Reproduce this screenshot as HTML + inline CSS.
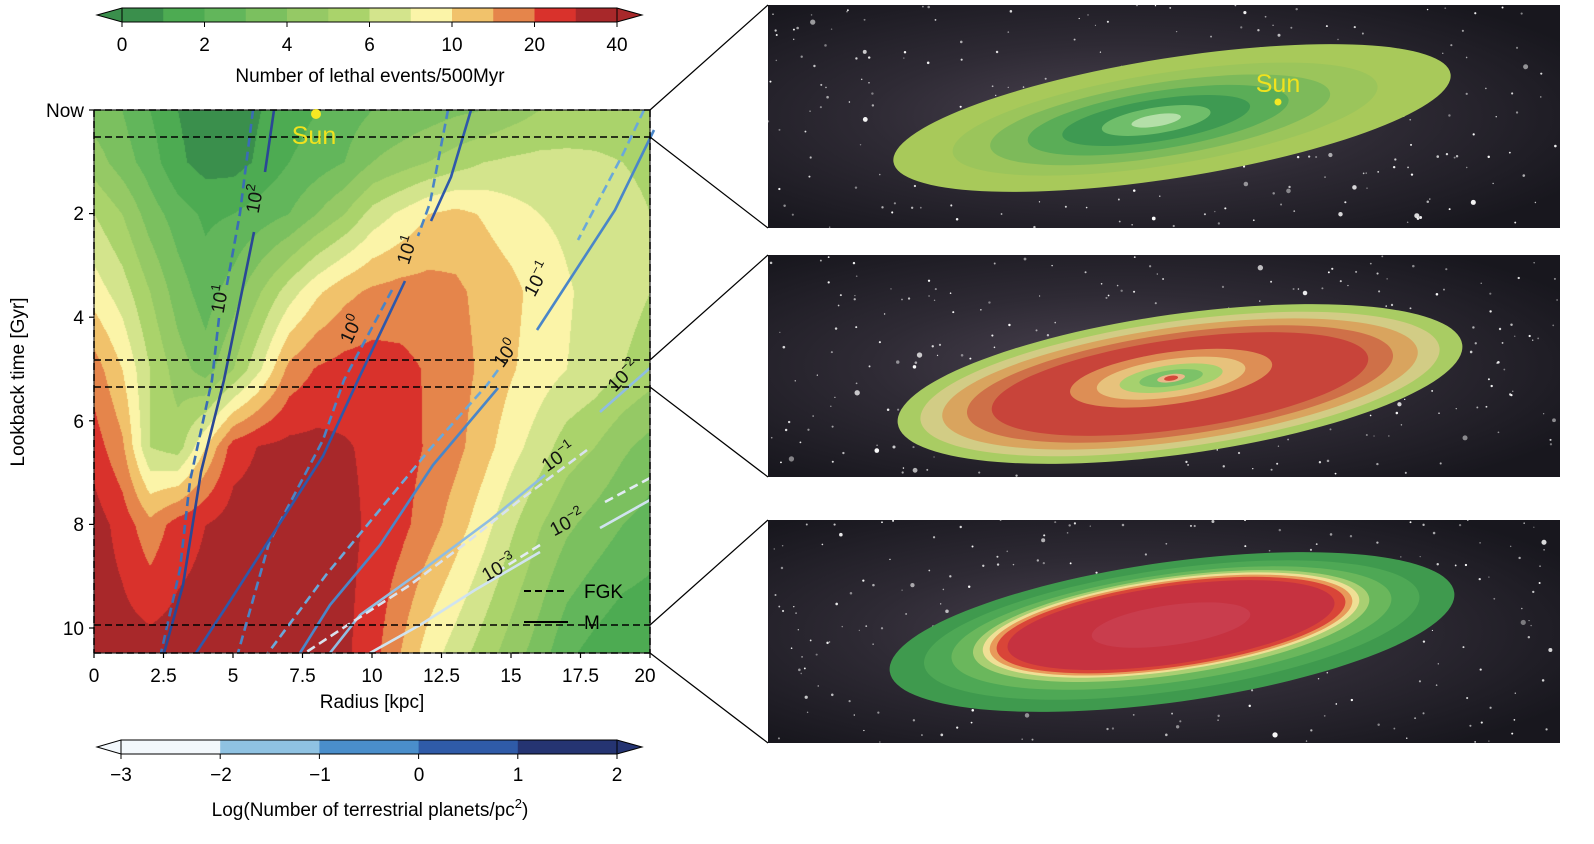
<!DOCTYPE html>
<html><head><meta charset="utf-8"><style>
html,body{margin:0;padding:0;background:#fff;}
#wrap{position:relative;width:1594px;height:844px;overflow:hidden;font-family:"Liberation Sans",sans-serif;}
#cv{position:absolute;left:94px;top:110px;}
#svg{position:absolute;left:0;top:0;}
</style></head><body><div id="wrap">
<canvas id="cv" width="556" height="543"></canvas>
<svg id="svg" width="1594" height="844" xmlns="http://www.w3.org/2000/svg" font-family="Liberation Sans, sans-serif">
<defs>
<radialGradient id="bg" cx="45%" cy="50%" r="65%"><stop offset="0" stop-color="#4c4452"/><stop offset="0.5" stop-color="#2e2a34"/><stop offset="1" stop-color="#18171e"/></radialGradient>
<clipPath id="c1"><rect x="768" y="5" width="792" height="223"/></clipPath>
<clipPath id="c2"><rect x="768" y="255" width="792" height="222"/></clipPath>
<clipPath id="c3"><rect x="768" y="520" width="792" height="223"/></clipPath>
</defs>
<g id="cb1"></g>
<text x="122" y="51" font-size="19" text-anchor="middle">0</text>
<text x="204.5" y="51" font-size="19" text-anchor="middle">2</text>
<text x="287" y="51" font-size="19" text-anchor="middle">4</text>
<text x="369.5" y="51" font-size="19" text-anchor="middle">6</text>
<text x="452" y="51" font-size="19" text-anchor="middle">10</text>
<text x="534.5" y="51" font-size="19" text-anchor="middle">20</text>
<text x="617" y="51" font-size="19" text-anchor="middle">40</text>
<text x="370" y="82" font-size="19" text-anchor="middle">Number of lethal events/500Myr</text>
<g id="lines" fill="none" stroke-width="2.6"></g>
<rect x="94" y="110" width="556" height="543" fill="none" stroke="#222" stroke-width="1.2"/>
<g stroke="#000" stroke-width="1.5" stroke-dasharray="7,4">
<line x1="94" y1="110" x2="650" y2="110"/><line x1="94" y1="137" x2="650" y2="137"/>
<line x1="94" y1="360" x2="650" y2="360"/><line x1="94" y1="387" x2="650" y2="387"/>
<line x1="94" y1="625" x2="650" y2="625"/><line x1="94" y1="653" x2="650" y2="653"/>
<line x1="94" y1="110" x2="94" y2="653"/><line x1="650" y1="110" x2="650" y2="653"/>
</g>
<g id="ticks" stroke="#000" stroke-width="1.2"></g>
<g font-size="19" text-anchor="end">
<text x="84" y="117">Now</text><text x="84" y="220">2</text><text x="84" y="324">4</text><text x="84" y="428">6</text><text x="84" y="531">8</text><text x="84" y="635">10</text>
</g>
<g font-size="19" text-anchor="middle">
<text x="94" y="682">0</text><text x="163.5" y="682">2.5</text><text x="233" y="682">5</text><text x="302.5" y="682">7.5</text><text x="372" y="682">10</text><text x="441.5" y="682">12.5</text><text x="511" y="682">15</text><text x="580.5" y="682">17.5</text><text x="645" y="682">20</text>
<text x="372" y="708">Radius [kpc]</text>
</g>
<text transform="translate(24,382) rotate(-90)" font-size="19" text-anchor="middle">Lookback time [Gyr]</text>
<circle cx="316" cy="114" r="5" fill="#f5e823"/>
<text x="314" y="144" font-size="25" fill="#f0e21e" text-anchor="middle">Sun</text>
<line x1="524" y1="591" x2="568" y2="591" stroke="#000" stroke-width="2" stroke-dasharray="7,4"/>
<text x="584" y="598" font-size="19">FGK</text>
<line x1="524" y1="622" x2="568" y2="622" stroke="#000" stroke-width="2"/>
<text x="584" y="629" font-size="19">M</text>
<g id="cb2"></g>
<g font-size="19" text-anchor="middle">
<text x="121" y="781">−3</text><text x="221" y="781">−2</text><text x="320" y="781">−1</text><text x="419" y="781">0</text><text x="518" y="781">1</text><text x="617" y="781">2</text>
<text x="370" y="816">Log(Number of terrestrial planets/pc<tspan font-size="13" dy="-8">2</tspan><tspan dy="8">)</tspan></text>
</g>
<g stroke="#000" stroke-width="1.2">
<line x1="650" y1="110" x2="768" y2="5"/><line x1="650" y1="137" x2="768" y2="228"/>
<line x1="650" y1="360" x2="768" y2="255"/><line x1="650" y1="387" x2="768" y2="477"/>
<line x1="650" y1="625" x2="768" y2="520"/><line x1="650" y1="653" x2="768" y2="743"/>
</g>
<g clip-path="url(#c1)"><rect x="768" y="5" width="792" height="223" fill="url(#bg)"/><g class="stars" data-y="5"></g>
<g transform="rotate(-9 1172 118)">
<ellipse cx="1172" cy="118" rx="282" ry="60" fill="#a8c95a"/>
<ellipse cx="1165" cy="118" rx="215" ry="46" fill="#9bc55b"/>
<ellipse cx="1160" cy="118" rx="172" ry="37" fill="#7dba5a"/>
<ellipse cx="1158" cy="118" rx="132" ry="29" fill="#5aad57"/>
<ellipse cx="1156" cy="118" rx="95" ry="21" fill="#3e9a52"/>
<ellipse cx="1156" cy="118" rx="55" ry="13" fill="#6fbe6a"/>
<ellipse cx="1156" cy="118" rx="25" ry="6" fill="#b4dfa8"/>
</g>
<circle cx="1278" cy="102" r="3.5" fill="#f5e823"/>
<text x="1278" y="92" font-size="25" fill="#f0e21e" text-anchor="middle">Sun</text>
</g>
<g clip-path="url(#c2)"><rect x="768" y="255" width="792" height="222" fill="url(#bg)"/><g class="stars" data-y="255"></g>
<g transform="rotate(-8 1180 384)">
<ellipse cx="1180" cy="384" rx="285" ry="70" fill="#a9cc63"/>
<ellipse cx="1180" cy="384" rx="262" ry="63" fill="#d2cc85"/>
<ellipse cx="1180" cy="384" rx="240" ry="57" fill="#d9a45e"/>
<ellipse cx="1180" cy="384" rx="215" ry="51" fill="#cf7048"/>
<ellipse cx="1180" cy="384" rx="190" ry="45" fill="#c8443a"/>
<ellipse cx="1172" cy="377" rx="102" ry="26" fill="#dd8e55"/>
<ellipse cx="1172" cy="377" rx="75" ry="19" fill="#e7c27c"/>
<ellipse cx="1172" cy="377" rx="52" ry="13" fill="#a6d16e"/>
<ellipse cx="1172" cy="377" rx="32" ry="8" fill="#7cc268"/>
<ellipse cx="1172" cy="377" rx="14" ry="4" fill="#e9b88a"/>
<ellipse cx="1172" cy="377" rx="7" ry="2.5" fill="#d4493a"/>
</g></g>
<g clip-path="url(#c3)"><rect x="768" y="520" width="792" height="223" fill="url(#bg)"/><g class="stars" data-y="520"></g>
<g transform="rotate(-8 1172 632)">
<ellipse cx="1172" cy="632" rx="285" ry="70" fill="#3f9a4e"/>
<ellipse cx="1172" cy="630" rx="250" ry="61" fill="#4ea855"/>
<ellipse cx="1172" cy="628" rx="222" ry="54" fill="#6ab75c"/>
<ellipse cx="1172" cy="626" rx="200" ry="49" fill="#a9cf72"/>
<ellipse cx="1172" cy="625" rx="190" ry="46" fill="#efdf95"/>
<ellipse cx="1172" cy="625" rx="183" ry="44" fill="#e89a5a"/>
<ellipse cx="1172" cy="625" rx="176" ry="42" fill="#d94538"/>
<ellipse cx="1172" cy="625" rx="165" ry="39" fill="#c63240"/>
<ellipse cx="1172" cy="625" rx="80" ry="20" fill="#cc4557" opacity="0.6"/>
</g></g>
</svg>
<script>
(function(){
var cols=['#3a8f4c','#4dab52','#62b65b','#7bc05f','#95c965','#aad36b','#d3e48c','#fbf4a8','#f1c26b','#e5854b','#d9322c','#a8282a'];
var T=[0,1,2,3.5,5,6.5,8,10.5];
var G=[
[3.5,3,2,1,0.5,0.5,1,1.5,2,2.5,3,3.2,3.5,3.8,4,4.5,5,5.2,5.3,5.3,5.3],
[4.5,3.5,2.5,1.2,0.6,0.6,1.2,2,2.5,3,4,4.5,5,5.5,6,6.2,6.3,6.3,6.2,6,5.8],
[6,5,3.5,2.5,1.8,2,2.5,3,4,5,6.4,7.2,8,8.3,7.9,7.4,7,6.8,6.5,6.3,6],
[7.5,6.5,5,3.5,2.5,3.5,5,6.5,7.8,8.7,9.2,9.4,9.4,9.2,8.7,8.3,7.6,7.1,6.7,6.4,6],
[9.5,8,6,4.5,3.5,5,7,9.3,10.1,10.4,10.5,10.3,9.9,9.4,8.8,8.1,7.5,7,6.6,6,5.5],
[10.5,9.2,6,5.5,8,10.5,11.1,11.3,11.3,11.1,10.8,10.4,9.9,9.3,8.4,7.4,6.5,5.5,5,4.2,3.6],
[11.5,10.6,9.3,10.5,11,11.5,11.5,11.8,11.6,11.3,10.8,10.3,9.5,8.5,7.4,6.2,5.1,4.2,3.6,3,2.6],
[11.5,11.5,11.5,11.5,11.5,11.5,11.8,12,11.8,11.2,10.4,9,7.5,6.5,5.5,4.5,3.5,2.2,1.6,1.1,1]];
function hex(c){return [parseInt(c.substr(1,2),16),parseInt(c.substr(3,2),16),parseInt(c.substr(5,2),16)];}
var C=cols.map(hex);
var cv=document.getElementById('cv'),ctx=cv.getContext('2d');
var W=556,H=543,img=ctx.createImageData(W,H);
for(var y=0;y<H;y++){var t=y/51.8;var i=0;while(i<T.length-2&&t>T[i+1])i++;var ft=(t-T[i])/(T[i+1]-T[i]);if(ft>1)ft=1;
for(var x=0;x<W;x++){var r=x/27.8;var j=Math.min(19,Math.floor(r));var fr=r-j;
var v=(G[i][j]*(1-fr)+G[i][j+1]*fr)*(1-ft)+(G[i+1][j]*(1-fr)+G[i+1][j+1]*fr)*ft;
var k=Math.floor(v);if(k<0)k=0;if(k>11)k=11;var c=C[k];var p=(y*W+x)*4;img.data[p]=c[0];img.data[p+1]=c[1];img.data[p+2]=c[2];img.data[p+3]=255;}}
ctx.putImageData(img,0,0);
var NS='http://www.w3.org/2000/svg';
function el(n,a,par){var e=document.createElementNS(NS,n);for(var k in a)e.setAttribute(k,a[k]);par.appendChild(e);return e;}
var cb1=document.getElementById('cb1');
el('polygon',{points:'97,15 122,8 122,22',fill:cols[0],stroke:'#000','stroke-width':1},cb1);
el('polygon',{points:'642,15 617,8 617,22',fill:cols[11],stroke:'#000','stroke-width':1},cb1);
for(var q=0;q<12;q++)el('rect',{x:122+q*41.25,y:8,width:41.8,height:14,fill:cols[q]},cb1);
el('rect',{x:122,y:8,width:495,height:14,fill:'none',stroke:'#000','stroke-width':1},cb1);
for(q=0;q<7;q++)el('line',{x1:122+q*82.5,y1:22,x2:122+q*82.5,y2:27,stroke:'#000'},cb1);
var cb2=document.getElementById('cb2');var bc=['#f3f8fc','#8fc2e2','#4a8ecb','#2f5ba8','#253472'];
el('polygon',{points:'97,747 121,740 121,754',fill:bc[0],stroke:'#000','stroke-width':1},cb2);
el('polygon',{points:'642,747 617,740 617,754',fill:bc[4],stroke:'#000','stroke-width':1},cb2);
for(q=0;q<5;q++)el('rect',{x:121+q*99.2,y:740,width:99.8,height:14,fill:bc[q]},cb2);
el('rect',{x:121,y:740,width:496,height:14,fill:'none',stroke:'#000','stroke-width':1},cb2);
for(q=0;q<6;q++)el('line',{x1:121+q*99.2,y1:754,x2:121+q*99.2,y2:759,stroke:'#000'},cb2);
var tk=document.getElementById('ticks');
[110,213.6,317.2,420.8,524.4,628].forEach(function(v){el('line',{x1:89,y1:v,x2:94,y2:v},tk);});
for(q=0;q<9;q++)el('line',{x1:94+q*69.5,y1:653,x2:94+q*69.5,y2:658},tk);
var L=document.getElementById('lines');
function pl(pts,col,dash,w){var a={points:pts,stroke:col,'stroke-width':w||2.6,fill:'none','stroke-linejoin':'round'};if(dash)a['stroke-dasharray']='9,5';el('polyline',a,L);}
pl('253,110 240,213 226,290','#3a6db5',1);pl('219,318 212,380 190,481 180,569 161,653','#3a6db5',1);
pl('274,110 265,172','#2a4795');pl('254,232 224,380 201,472 183,585 164,653','#2a4795');
pl('448,110 430,203 418,236','#4a84c5',1);pl('392,290 344,380 323,440 269,543 238,653','#4a84c5',1);
pl('471,110 451,177 431,221','#2f58aa');pl('405,281 358,380 323,456 230,601 196,653','#2f58aa');
pl('644,110 623,154 578,240','#6aa8da',1);pl('498,370 487,385 430,449 326,575 268,653','#6aa8da',1);
pl('654,130 615,210 537,330','#4a86c8');pl('498,388 433,465 380,545 330,605 300,653','#4a86c8');
pl('650,368 600,412','#8fbde2');pl('545,475 490,520 420,572 360,615 330,653','#8fbde2');
pl('587,450 520,500 470,540 410,585 340,630 305,653','#d8e2ee',1);
pl('650,478 605,502','#e2ebf3',1);pl('540,545 500,570','#e2ebf3',1);
pl('650,500 600,528','#d0e3ef');pl('540,552 475,590 420,625 370,653','#d0e3ef');
function lab(x,y,rot,base,exp){var g=el('g',{transform:'translate('+x+','+y+') rotate('+rot+')'},L);
var t=el('text',{x:0,y:0,'font-size':19,fill:'#111','text-anchor':'middle',stroke:'none'},g);t.textContent=base;
var s=el('tspan',{'font-size':13,dy:-8},t);s.textContent=exp;}
lab(226,300,-80,'10','1');lab(261,200,-80,'10','2');lab(413,252,-72,'10','1');lab(357,332,-65,'10','0');
lab(543,282,-62,'10','−1');lab(511,357,-55,'10','0');lab(628,380,-45,'10','−2');lab(562,462,-35,'10','−1');
lab(570,528,-28,'10','−2');lab(502,573,-30,'10','−3');
var seed=7;function rnd(){seed=(seed*16807)%2147483647;return seed/2147483647;}
document.querySelectorAll('.stars').forEach(function(g){var y0=+g.getAttribute('data-y');
for(var n=0;n<260;n++){var rr=rnd()<0.9?0.6+rnd()*0.7:1.2+rnd()*1.5;el('circle',{cx:768+rnd()*792,cy:y0+rnd()*223,r:rr,fill:'#fff',opacity:0.4+rnd()*0.6},g);}});
})();
</script>
</div></body></html>
